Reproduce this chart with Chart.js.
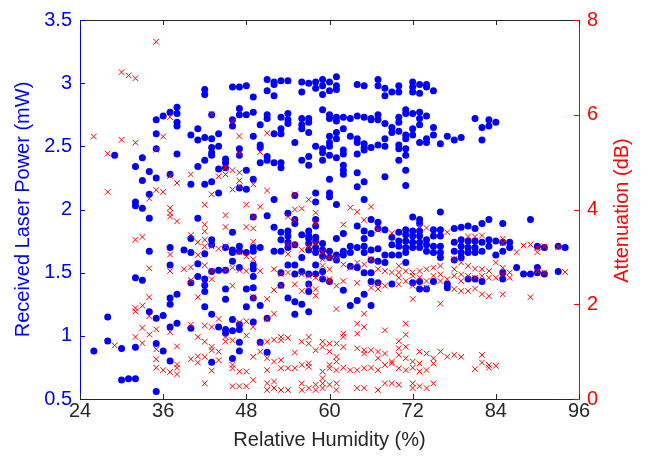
<!DOCTYPE html>
<html lang="en">

<head>
    <meta charset="UTF-8">
    <title>Laser power and attenuation vs humidity</title>
    <script src="https://cdn.jsdelivr.net/npm/chart.js"></script>
    <style>
        body {
            margin: 0;
            padding: 0;
            background-color: white;
        }

        .chart {
            width: 649px;
            height: 466px;
            position: relative;
        }
    </style>
</head>

<body>

    <div class="chart"><canvas id="myChart"></canvas></div>

    <script>
        // Received laser power (mW), grouped by relative humidity (%)
        const powerRh = [26, 28, 29, 30, 31, 32, 33, 34, 35, 36, 37, 38, 39, 40, 41, 42, 43, 44, 45, 46,
            47, 48, 49, 50, 51, 52, 53, 54, 55, 56, 57, 58, 59, 60, 61, 62, 63, 64, 65, 66,
            67, 68, 69, 70, 71, 72, 73, 74, 75, 76, 77, 78, 79, 80, 81, 82, 83, 84, 85, 86,
            87, 88, 89, 90, 91, 93, 94];
        const powerMw = [
            [0.88],
            [1.15, 0.96],
            [2.43],
            [0.90, 0.65],
            [0.66],
            [2.34, 2.06, 2.03, 1.46, 0.91, 0.66],
            [2.41, 2.23, 2.01, 1.44],
            [2.30, 2.12, 1.93, 1.67, 1.19],
            [2.71, 2.60, 2.48, 2.25, 1.14, 0.94, 0.56],
            [2.74, 1.16, 0.88],
            [2.77, 2.28, 1.70, 1.56, 1.30, 1.25, 1.07, 0.80],
            [2.81, 2.76, 2.69, 2.66, 2.44, 1.33, 1.10],
            [1.68],
            [2.59, 2.20, 1.77, 1.66, 1.42, 1.06],
            [2.64, 2.55, 2.34, 1.93, 1.57, 1.47],
            [2.95, 2.91, 2.57, 2.39, 2.20, 1.65, 1.45, 1.40, 1.35, 1.23],
            [2.75, 2.56, 2.49, 2.45, 2.43, 2.22, 1.76, 1.72, 1.51, 1.17, 0.79],
            [2.60, 2.50, 2.32, 2.13, 1.52, 1.07],
            [2.40, 2.37, 2.33, 1.70, 1.52, 1.37, 1.29, 1.05, 1.02],
            [2.97, 2.71, 2.66, 1.82, 1.68, 1.66, 1.59, 1.13, 1.04, 0.82],
            [2.97, 2.80, 2.75, 2.48, 2.43, 2.17, 1.71, 1.67, 1.54, 1.09, 1.05, 0.95, 0.88],
            [2.98, 2.75, 2.31, 2.16, 1.66, 1.37, 1.23],
            [2.89, 2.77, 2.58, 2.24, 1.94, 1.70, 1.67, 1.56, 1.53, 1.47, 1.38, 1.30, 1.11],
            [2.67, 2.51, 2.49, 2.37, 1.70, 1.24, 0.95],
            [3.03, 2.94, 2.75, 2.72, 2.42, 2.39, 1.95, 1.14, 0.87],
            [3.01, 2.99, 2.90, 2.60, 2.37, 2.08, 1.86, 1.67],
            [3.02, 2.73, 2.64, 2.60, 2.37, 2.33, 1.82, 1.76, 1.67, 1.50, 1.40],
            [3.02, 2.76, 2.71, 2.68, 1.97, 1.83, 1.79, 1.74, 1.70, 1.56, 1.30],
            [2.53, 2.11, 1.92, 1.89, 1.72, 1.56, 1.49, 1.27, 1.17],
            [3.01, 2.93, 2.72, 2.67, 2.64, 2.39, 1.80, 1.62, 1.51, 1.25],
            [3.00, 2.72, 2.69, 2.61, 2.42, 2.35, 1.83, 1.79, 1.77, 1.73, 1.68, 1.49, 1.41, 1.35, 1.19],
            [3.01, 2.96, 2.50, 2.13, 2.06, 1.92, 1.87, 1.78, 1.75, 1.70, 1.66, 1.56, 1.49],
            [3.03, 2.98, 2.91, 2.79, 2.48, 2.45, 2.39, 1.73, 1.68, 1.63, 1.51, 1.45],
            [3.01, 2.94, 2.75, 2.72, 2.58, 2.53, 2.50, 2.43, 2.24, 2.13, 2.10, 1.67, 1.62, 1.43],
            [3.05, 2.98, 2.95, 2.73, 2.70, 2.61, 2.56, 2.41, 2.04, 1.77, 1.64, 1.60],
            [2.73, 2.64, 2.47, 2.44, 2.35, 2.31, 2.28, 1.81, 1.67, 1.64, 1.36],
            [2.72, 2.58, 1.71, 1.66, 1.55, 1.24],
            [2.99, 2.74, 2.56, 2.53, 2.44, 2.29, 2.18, 1.87, 1.70, 1.54, 1.28],
            [2.98, 2.73, 2.52, 2.49, 2.47, 2.22, 2.08, 1.83, 1.77, 1.71, 1.66, 1.50, 1.33],
            [2.72, 2.71, 2.49, 1.92, 1.81, 1.68, 1.60, 1.50, 1.43, 1.24],
            [3.03, 2.98, 2.75, 2.71, 2.51, 1.90, 1.85, 1.69, 1.59, 1.42],
            [2.96, 2.90, 2.68, 2.56, 2.50, 2.26, 1.84, 1.64, 1.58],
            [2.93, 2.65, 2.61, 1.78, 1.72, 1.64, 1.41],
            [2.98, 2.93, 2.73, 2.69, 2.62, 2.51, 2.48, 2.39, 1.82, 1.75, 1.71, 1.64],
            [2.79, 2.76, 2.59, 2.56, 2.48, 2.43, 2.31, 2.19, 1.84, 1.80, 1.75, 1.70, 1.66, 1.58],
            [3.01, 2.97, 2.93, 2.76, 2.64, 2.59, 1.94, 1.83, 1.79, 1.74, 1.70, 1.42],
            [2.99, 2.92, 2.77, 2.72, 2.67, 2.53, 1.92, 1.89, 1.83, 1.79, 1.74, 1.70, 1.43, 1.37],
            [2.99, 2.97, 2.74, 2.56, 2.53, 1.76, 1.72, 1.67, 1.37],
            [2.94, 2.65, 2.59, 1.84, 1.79, 1.71, 1.66, 1.43],
            [2.52, 1.98, 1.84, 1.79, 1.71, 1.66, 1.62],
            [2.58, 1.41, 1.38],
            [2.55, 1.85, 1.74, 1.67, 1.60],
            [2.57, 1.86, 1.76, 1.71, 1.66, 1.62],
            [1.87, 1.75, 1.70, 1.66, 1.45],
            [2.72, 1.85, 1.75, 1.70, 1.66, 1.45],
            [2.65, 2.55, 1.89, 1.74, 1.67, 1.43],
            [2.71, 2.66, 1.92, 1.76, 1.71],
            [2.69, 1.75, 1.64],
            [1.89, 1.74, 1.67, 1.50, 1.45],
            [1.74, 1.70],
            [1.54],
            [1.49],
            [1.92, 1.49],
            [1.71, 1.54, 1.50],
            [1.70, 1.49],
            [1.71, 1.51],
            [1.70]
        ];

        // Attenuation (dB), grouped by relative humidity (%)
        const attRh = [26, 28, 29, 30, 31, 32, 33, 34, 35, 36, 37, 38, 39, 40, 41, 42, 43, 44, 45, 46,
            47, 48, 49, 50, 51, 52, 53, 54, 55, 56, 57, 58, 59, 60, 61, 62, 63, 64, 65, 66,
            67, 68, 69, 70, 71, 72, 73, 74, 75, 76, 77, 78, 79, 80, 81, 82, 83, 84, 85, 86,
            87, 88, 89, 90, 91, 93, 94];
        const attDb = [
            [5.54],
            [5.18, 4.37],
            [1.13],
            [6.90, 5.47],
            [6.83],
            [6.77, 5.41, 3.36, 1.92, 1.85, 1.31],
            [3.42, 1.97, 1.50, 1.18],
            [4.23, 2.76, 2.15, 1.75, 1.36],
            [7.54, 5.26, 4.41, 1.47, 1.05, 0.84, 0.66],
            [5.54, 4.37, 0.61],
            [5.95, 4.71, 4.03, 3.92, 3.85, 3.05, 2.70, 1.41, 0.57],
            [4.56, 3.75, 1.11, 0.73, 0.66, 0.52],
            [2.74],
            [4.74, 3.46, 2.78, 2.51, 1.57, 0.84],
            [3.31, 3.04, 2.15, 1.31, 0.90, 0.77],
            [4.10, 3.68, 3.54, 3.36, 3.22, 2.82, 1.55, 1.21, 0.89, 0.33],
            [6.01, 4.32, 3.22, 2.70, 2.53, 1.52, 1.10, 1.03, 0.60],
            [4.70, 3.17, 1.69, 1.00, 0.82],
            [4.89, 4.74, 3.88, 3.63, 3.22, 2.72, 1.31, 1.21],
            [5.85, 4.83, 4.42, 2.77, 2.39, 1.24, 0.72, 0.65, 0.27],
            [5.55, 5.19, 4.78, 4.61, 4.49, 3.10, 2.72, 1.62, 0.58, 0.27],
            [4.10, 3.63, 3.01, 2.70, 1.64, 1.34, 0.58, 0.27],
            [4.53, 3.84, 3.60, 3.32, 2.95, 2.15, 1.52, 0.89, 0.40],
            [5.21, 4.06, 2.70, 1.17, 1.00],
            [5.61, 4.40, 2.11, 1.69, 1.21, 0.86, 0.61, 0.33, 0.19],
            [2.74, 2.30, 1.80, 1.25, 0.79, 0.37, 0.23],
            [2.63, 2.39, 1.31, 1.24, 0.82, 0.65, 0.19],
            [3.85, 3.26, 3.06, 2.67, 1.29, 0.65, 0.19],
            [4.32, 4.00, 3.78, 3.26, 2.42, 0.98, 0.65],
            [4.02, 3.15, 2.63, 2.28, 1.21, 0.72, 0.33, 0.19],
            [4.21, 3.22, 2.60, 2.39, 1.31, 1.17, 0.75, 0.68, 0.23],
            [3.93, 3.71, 3.29, 2.56, 2.32, 2.18, 1.03, 0.30, 0.19],
            [3.10, 2.95, 2.81, 2.60, 1.21, 1.10, 0.58, 0.44, 0.33, 0.23],
            [2.98, 2.74, 2.53, 2.49, 1.17, 1.00, 0.72, 0.65, 0.30],
            [2.98, 2.39, 1.90, 1.17, 0.89, 0.79, 0.61, 0.33, 0.19],
            [3.68, 2.84, 2.49, 1.38, 1.31, 1.10, 0.66],
            [4.04, 2.77, 0.61],
            [3.95, 2.88, 2.45, 1.59, 1.38, 1.07, 0.61, 0.23],
            [3.78, 2.84, 1.80, 1.52, 1.03, 0.96, 0.65, 0.23],
            [4.06, 2.95, 2.35, 1.03, 0.66],
            [3.57, 2.74, 2.42, 2.32, 1.00, 0.86, 0.61, 0.19],
            [2.70, 2.39, 1.45, 0.96, 0.72, 0.33],
            [3.50, 2.67, 0.79, 0.75, 0.33],
            [2.81, 2.67, 2.56, 2.42, 1.22, 1.07, 0.93, 0.65, 0.30],
            [2.70, 2.49, 1.59, 1.36, 1.10, 0.86, 0.61],
            [2.67, 2.60, 2.39, 2.11, 0.79, 0.66, 0.33, 0.23],
            [3.64, 2.70, 2.56, 1.00, 0.75, 0.58, 0.27],
            [3.61, 2.74, 2.49, 2.35, 0.96, 0.61, 0.23],
            [2.77, 2.60, 0.86, 0.75, 0.33],
            [2.81, 2.63, 2.49, 2.01, 1.00],
            [3.52, 2.53, 0.89],
            [2.95, 2.74, 2.60, 2.32, 0.93],
            [2.88, 2.63, 2.49, 2.28, 0.89],
            [3.43, 2.81, 2.60, 2.28],
            [3.43, 2.75, 2.56, 2.33, 0.63],
            [3.45, 2.74, 2.60, 2.21, 0.93, 0.77],
            [2.70, 2.56, 2.17, 0.72, 0.66],
            [2.88, 2.56, 0.70],
            [3.38, 3.29, 2.77, 2.63, 2.21],
            [2.67, 2.56],
            [3.10],
            [3.24],
            [3.26, 2.15],
            [3.19, 3.10, 2.70],
            [3.22, 2.67],
            [3.21],
            [2.68]
        ];

        const xTicks = [24, 36, 48, 60, 72, 84, 96];
        const powerTicks = [0.5, 1, 1.5, 2, 2.5, 3, 3.5];
        const attTicks = [0, 2, 4, 6, 8];

        const BLUE = '#0000ff';
        const RED = '#ff0000';
        const DARK = '#262626';
        const FONT = 'Liberation Sans, Arial, Helvetica, sans-serif';

        function toPoints(rh, groups) {
            const pts = [];
            rh.forEach((h, i) => groups[i].forEach(v => pts.push({ x: h, y: v })));
            return pts;
        }

        // MATLAB-style inward ticks, top frame line, and the right title read bottom-to-top
        const boxTicks = {
            id: 'boxTicks',
            afterDatasetsDraw(chart) {
                const { ctx, chartArea: a, scales } = chart;
                const len = 5;
                ctx.save();
                ctx.lineWidth = 1;

                ctx.strokeStyle = DARK;
                ctx.beginPath();
                ctx.moveTo(a.left, a.top + 0.5);
                ctx.lineTo(a.right, a.top + 0.5);
                xTicks.forEach(v => {
                    const px = Math.round(scales.x.getPixelForValue(v)) + 0.5;
                    ctx.moveTo(px, a.bottom);
                    ctx.lineTo(px, a.bottom - len);
                    ctx.moveTo(px, a.top);
                    ctx.lineTo(px, a.top + len);
                });
                ctx.stroke();

                ctx.strokeStyle = BLUE;
                ctx.beginPath();
                powerTicks.forEach(v => {
                    const py = Math.round(scales.y.getPixelForValue(v)) + 0.5;
                    ctx.moveTo(a.left, py);
                    ctx.lineTo(a.left + len, py);
                });
                ctx.stroke();

                ctx.strokeStyle = RED;
                ctx.beginPath();
                attTicks.forEach(v => {
                    const py = Math.round(scales.y2.getPixelForValue(v)) + 0.5;
                    ctx.moveTo(a.right, py);
                    ctx.lineTo(a.right - len, py);
                });
                ctx.stroke();

                ctx.translate(a.right + 43, (a.top + a.bottom) / 2 + 1);
                ctx.rotate(-Math.PI / 2);
                ctx.fillStyle = RED;
                ctx.font = '20px ' + FONT;
                ctx.textAlign = 'center';
                ctx.textBaseline = 'middle';
                ctx.fillText('Attenuation (dB)', 0, 0);
                ctx.restore();
            }
        };

        const ctx = document.getElementById('myChart').getContext('2d');
        new Chart(ctx, {
            type: 'scatter',
            data: {
                datasets: [
                    {
                        label: 'Received Laser Power (mW)',
                        data: toPoints(powerRh, powerMw),
                        yAxisID: 'y',
                        order: 2,
                        pointStyle: 'circle',
                        pointRadius: 3.5,
                        pointBorderWidth: 0,
                        backgroundColor: BLUE,
                        borderColor: BLUE
                    },
                    {
                        label: 'Attenuation (dB)',
                        data: toPoints(attRh, attDb),
                        yAxisID: 'y2',
                        order: 1,
                        pointStyle: 'crossRot',
                        pointRadius: 4,
                        pointBorderWidth: 1,
                        backgroundColor: RED,
                        borderColor: RED
                    }
                ]
            },
            options: {
                responsive: true,
                maintainAspectRatio: false,
                animation: false,
                events: [],
                layout: { padding: { top: 16, left: 0, right: 0, bottom: 0 } },
                plugins: {
                    legend: { display: false },
                    tooltip: { enabled: false }
                },
                scales: {
                    x: {
                        type: 'linear',
                        min: 24,
                        max: 96,
                        afterFit: s => { s.height = 67; },
                        afterBuildTicks: s => { s.ticks = xTicks.map(v => ({ value: v })); },
                        grid: { display: false, drawTicks: false },
                        border: { display: true, color: DARK, width: 1 },
                        ticks: {
                            color: DARK,
                            padding: 0,
                            maxRotation: 0,
                            font: { family: FONT, size: 20 },
                            callback: v => String(v)
                        },
                        title: {
                            display: true,
                            text: 'Relative Humidity (%)',
                            color: DARK,
                            padding: { top: 0, bottom: 14 },
                            font: { family: FONT, size: 20 }
                        }
                    },
                    y: {
                        type: 'linear',
                        position: 'left',
                        min: 0.5,
                        max: 3.5,
                        afterFit: s => { s.width = 80; },
                        afterBuildTicks: s => { s.ticks = powerTicks.map(v => ({ value: v })); },
                        grid: { display: false, drawTicks: false },
                        border: { display: true, color: BLUE, width: 1 },
                        ticks: {
                            color: BLUE,
                            padding: 8,
                            font: { family: FONT, size: 20 },
                            callback: v => String(v)
                        },
                        title: {
                            display: true,
                            text: 'Received Laser Power (mW)',
                            color: BLUE,
                            padding: { top: 11, bottom: 0 },
                            font: { family: FONT, size: 20 }
                        }
                    },
                    y2: {
                        type: 'linear',
                        position: 'right',
                        min: 0,
                        max: 8,
                        afterFit: s => { s.width = 70; },
                        afterBuildTicks: s => { s.ticks = attTicks.map(v => ({ value: v })); },
                        grid: { display: false, drawTicks: false },
                        border: { display: true, color: RED, width: 1 },
                        ticks: {
                            color: RED,
                            padding: 8,
                            font: { family: FONT, size: 20 },
                            callback: v => String(v)
                        },
                        title: { display: false }
                    }
                }
            },
            plugins: [boxTicks]
        });
    </script>
</body>

</html>
